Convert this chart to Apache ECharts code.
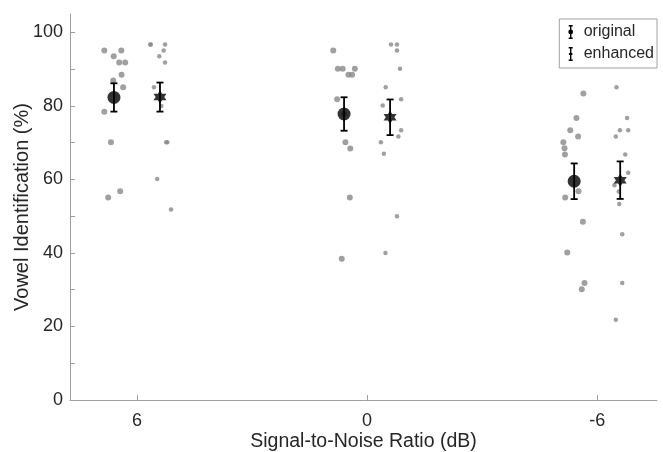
<!DOCTYPE html>
<html>
<head>
<meta charset="utf-8">
<script src="https://cdn.jsdelivr.net/npm/echarts@6/dist/echarts.min.js"></script>
<style>
html,body{margin:0;padding:0;background:#fff;}
#chart{width:663px;height:452px;}
</style>
</head>
<body>
<div id="chart"></div>
<script>
// ---- data ----
const snrLabels = ['6', '0', '-6'];
const groupPos = [1, 2, 3];
const yTicks = [0, 10, 20, 30, 40, 50, 60, 70, 80, 90, 100];
const yLabels = [0, 20, 40, 60, 80, 100];

const origMean = [82.3, 77.8, 59.5];
const origErr = [3.85, 4.55, 4.85];
const enhMean = [82.4, 76.9, 59.8];
const enhErr = [3.95, 4.85, 5.1];

// individual listeners (x = jittered group position, y = score %)
const origX = [0.858, 0.932, 0.899, 0.923, 0.949, 0.933, 0.897, 0.940, 0.858, 0.887, 0.927, 0.875,
               1.853, 1.873, 1.894, 1.947, 1.919, 1.935, 1.870, 1.906, 1.927, 1.925, 1.890, 1.900,
               2.940, 2.910, 2.883, 2.917, 2.853, 2.858, 2.860, 2.919, 2.861, 2.938, 2.870, 2.945, 2.933];
const origY = [95.1, 95.1, 93.5, 91.8, 91.8, 88.5, 86.9, 85.1, 78.4, 70.1, 56.8, 55.1,
               95.1, 90.1, 90.1, 90.1, 88.5, 88.5, 81.8, 70.1, 68.4, 55.1, 38.4, 77.8,
               83.4, 76.7, 73.4, 71.7, 70.1, 68.5, 66.8, 56.8, 55.1, 48.5, 40.1, 31.8, 30.1];
const enhX = [1.060, 1.058, 1.122, 1.116, 1.097, 1.122, 1.074, 1.106, 1.127, 1.132, 1.088, 1.148,
              2.104, 2.130, 2.130, 2.143, 2.081, 2.148, 2.068, 2.148, 2.136, 2.060, 2.073, 2.130, 2.080,
              3.084, 3.130, 3.099, 3.135, 3.081, 3.122, 3.135, 3.075, 3.094, 3.096, 3.109, 3.109, 3.081];
const enhY = [96.7, 96.7, 96.7, 95.1, 93.5, 91.8, 85.1, 80.0, 70.1, 70.1, 60.1, 51.8,
              96.7, 96.7, 95.1, 90.1, 85.1, 81.8, 80.1, 73.4, 71.7, 70.1, 67.0, 50.0, 40.0,
              85.1, 76.7, 73.4, 73.4, 71.7, 66.8, 61.8, 58.4, 56.7, 53.3, 45.1, 31.8, 21.8];

// ---- build ----
const DODGE = 0.1;
const zip = (xs, ys) => xs.map((x, i) => [x, ys[i]]);
const origPts = zip(origX, origY);
const enhPts = zip(enhX, enhY);
const origMeanData = groupPos.map((g, i) => [g - DODGE, origMean[i], origErr[i]]);
const enhMeanData = groupPos.map((g, i) => [g + DODGE, enhMean[i], enhErr[i]]);

const hexagram = 'path://M0,-1L0.866,0.5L-0.866,0.5Z M0,1L-0.866,-0.5L0.866,-0.5Z';
const legOrig = 'path://M3,0H7V1.4H5.7V12.6H7V14H3V12.6H4.3V1.4H3Z M5,4.6A2.4,2.4 0 1 1 5,9.4A2.4,2.4 0 1 1 5,4.6Z';
const legEnh = 'path://M3,0H7V1.4H5.7V12.6H7V14H3V12.6H4.3V1.4H3Z M5,4.6L7,8.1L3,8.1Z M5,9.4L3,5.9L7,5.9Z';

function errRender(params, api) {
  const x = api.value(0), m = api.value(1), e = api.value(2);
  const top = api.coord([x, m + e]);
  const bot = api.coord([x, m - e]);
  const cw = 3.5;
  const st = { stroke: '#000', lineWidth: 1.8 };
  return {
    type: 'group',
    children: [
      { type: 'line', shape: { x1: top[0], y1: top[1], x2: bot[0], y2: bot[1] }, style: st },
      { type: 'line', shape: { x1: top[0] - cw, y1: top[1], x2: top[0] + cw, y2: top[1] }, style: st },
      { type: 'line', shape: { x1: bot[0] - cw, y1: bot[1], x2: bot[0] + cw, y2: bot[1] }, style: st }
    ]
  };
}

const font = 'Liberation Sans, Arial, sans-serif';
const chart = echarts.init(document.getElementById('chart'), null, { renderer: 'canvas' });
chart.setOption({
  animation: false,
  backgroundColor: '#fff',
  textStyle: { fontFamily: font },
  grid: { left: 70, right: 6, top: 14, bottom: 52, containLabel: false, outerBoundsMode: 'none' },
  legend: {
    orient: 'vertical',
    right: 6, top: 19,
    data: [{ name: 'original', icon: legOrig }, { name: 'enhanced', icon: legEnh }],
    itemWidth: 8, itemHeight: 14, itemGap: 6,
    padding: [5, 3, 6, 9],
    borderColor: '#a0a0a0', borderWidth: 1,
    backgroundColor: '#fff',
    textStyle: { fontFamily: font, fontSize: 16, color: '#262626', padding: [0, 0, 0, 4] },
    selectedMode: false
  },
  xAxis: {
    type: 'value', min: 0.709, max: 3.26,
    name: 'Signal-to-Noise Ratio (dB)', nameLocation: 'middle', nameGap: 32, nameMoveOverlap: false,
    nameTextStyle: { fontFamily: font, fontSize: 19.5, color: '#262626' },
    axisLine: { lineStyle: { color: '#a0a0a0', width: 1 } },
    axisTick: { show: true, inside: true, length: 5, customValues: groupPos, lineStyle: { color: '#a0a0a0' } },
    axisLabel: { customValues: groupPos, formatter: v => snrLabels[groupPos.indexOf(Math.round(v))] ?? '',
                 fontFamily: font, fontSize: 18, color: '#262626', margin: 12 },
    splitLine: { show: false }
  },
  yAxis: {
    type: 'value', min: 0, max: 105,
    name: 'Vowel Identification (%)', nameLocation: 'middle', nameGap: 38, nameMoveOverlap: false,
    nameTextStyle: { fontFamily: font, fontSize: 20, color: '#262626' },
    axisLine: { show: true, lineStyle: { color: '#a0a0a0', width: 1 } },
    axisTick: { show: true, inside: true, length: 5, customValues: yTicks, lineStyle: { color: '#a0a0a0' } },
    axisLabel: { customValues: yLabels, fontFamily: font, fontSize: 18, color: '#262626', margin: 7 },
    splitLine: { show: false }
  },
  series: [
    { name: 'origPts', type: 'scatter', data: origPts, symbol: 'circle', symbolSize: 6,
      itemStyle: { color: '#888888' }, z: 1, silent: true },
    { name: 'enhPts', type: 'scatter', data: enhPts, symbol: 'circle', symbolSize: 4.5,
      itemStyle: { color: '#888888' }, z: 1, silent: true },
    { name: 'original', type: 'custom', renderItem: errRender, data: origMeanData,
      itemStyle: { color: '#000' }, encode: { x: 0, y: 1 }, z: 2, silent: true },
    { name: 'enhanced', type: 'custom', renderItem: errRender, data: enhMeanData,
      itemStyle: { color: '#000' }, encode: { x: 0, y: 1 }, z: 2, silent: true },
    { name: 'original', type: 'scatter', data: origMeanData.map(d => [d[0], d[1]]), symbol: 'circle', symbolSize: 13,
      itemStyle: { color: '#000' }, z: 3, silent: true },
    { name: 'enhanced', type: 'scatter', data: enhMeanData.map(d => [d[0], d[1]]), symbol: hexagram, symbolSize: [13, 13],
      itemStyle: { color: '#000' }, z: 3, silent: true }
  ]
});
</script>
</body>
</html>
